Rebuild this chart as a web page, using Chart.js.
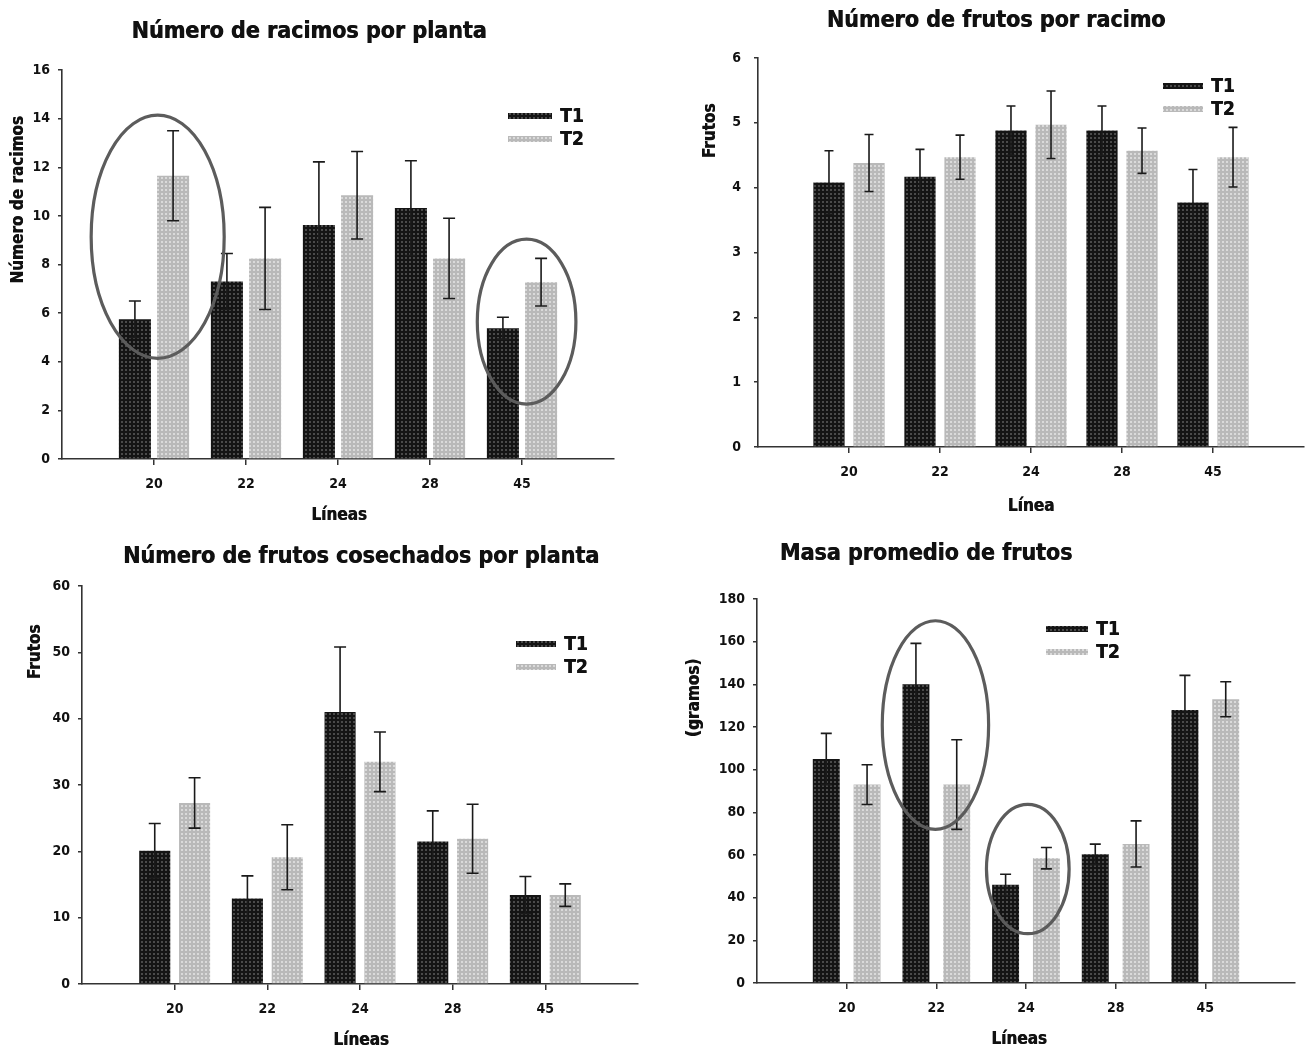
<!DOCTYPE html>
<html><head><meta charset="utf-8">
<script src="https://cdn.jsdelivr.net/npm/chart.js@4.4.1/dist/chart.umd.min.js"></script>
<style>
html,body{margin:0;padding:0;background:#fff;}
#wrap{position:relative;width:1306px;height:1051px;overflow:hidden;background:#fff;}
canvas{position:absolute;}
</style></head><body>
<div id="wrap">
<canvas id="c1" width="653" height="520" style="left:0px;top:0px"></canvas>
<canvas id="c2" width="653" height="520" style="left:653px;top:0px"></canvas>
<canvas id="c3" width="653" height="531" style="left:0px;top:520px"></canvas>
<canvas id="c4" width="653" height="531" style="left:653px;top:520px"></canvas>
</div>
<script>
// ---------- data ----------
const categories = ['20', '22', '24', '28', '45'];
const seriesNames = ['T1', 'T2'];

const racimosT1    = [5.75, 7.3, 9.62, 10.32, 5.38];
const racimosT1Err = [0.75, 1.15, 2.6, 1.95, 0.45];
const racimosT2    = [11.65, 8.25, 10.85, 8.25, 7.27];
const racimosT2Err = [1.85, 2.1, 1.8, 1.65, 0.98];
const racimosTicks = [0, 16, 2];           // min, max, step

const frutosRacT1    = [4.08, 4.17, 4.88, 4.88, 3.77];
const frutosRacT1Err = [0.49, 0.42, 0.38, 0.38, 0.51];
const frutosRacT2    = [4.38, 4.47, 4.97, 4.57, 4.47];
const frutosRacT2Err = [0.44, 0.34, 0.52, 0.35, 0.46];
const frutosRacTicks = [0, 6, 1];

const cosechaT1    = [20.1, 12.9, 41.0, 21.5, 13.4];
const cosechaT1Err = [4.1, 3.4, 9.8, 4.6, 2.8];
const cosechaT2    = [27.3, 19.1, 33.5, 21.9, 13.4];
const cosechaT2Err = [3.8, 4.9, 4.5, 5.2, 1.7];
const cosechaTicks = [0, 60, 10];

const masaT1    = [105, 140, 46, 60.3, 128];
const masaT1Err = [12, 19.2, 5, 4.8, 16.2];
const masaT2    = [93, 93, 58.5, 65.2, 133];
const masaT2Err = [9.3, 21, 5, 10.8, 8.2];
const masaTicks = [0, 180, 20];

// highlight ellipses (category position, value centre, half sizes)
const racimosHighlights = [
  { cx: 1.04, cy: 9.14, rx: 0.723, ry: 5.0 },
  { cx: 5.05, cy: 5.65, rx: 0.536, ry: 3.39 }
];
const masaHighlights = [
  { cx: 1.99, cy: 120.9, rx: 0.593, ry: 48.9 },
  { cx: 3.02, cy: 53.4, rx: 0.461, ry: 30.3 }
];

// ---------- styling ----------
const FONT = '"DejaVu Sans Condensed", "Liberation Sans Narrow", "Liberation Sans", sans-serif';
const INK = '#111111';
const AXIS = '#333333';

function makePattern(bg, dot) {
  const t = document.createElement('canvas');
  t.width = 4; t.height = 4;
  const g = t.getContext('2d');
  g.fillStyle = bg; g.fillRect(0, 0, 4, 4);
  g.fillStyle = dot; g.fillRect(1, 1, 2, 2);
  return document.createElement('canvas').getContext('2d').createPattern(t, 'repeat');
}
const darkFill = makePattern('#141414', '#4a4a4a');
const lightFill = makePattern('#b9b9b9', '#dadada');

function heavyText(ctx, text, x, y) {
  ctx.fillText(text, x, y);
  ctx.fillText(text, x + 0.6, y);
}

const decorPlugin = {
  id: 'decor',
  afterDatasetsDraw(chart, args, o) {
    const ctx = chart.ctx, xs = chart.scales.x, ys = chart.scales.y;
    ctx.save();
    chart.data.datasets.forEach((ds, di) => {
      const meta = chart.getDatasetMeta(di);
      meta.data.forEach((bar, i) => {
        const v = ds.data[i].y, e = ds.errors[i];
        const top = ys.getPixelForValue(v + e), bot = ys.getPixelForValue(v - e);
        ctx.strokeStyle = '#1a1a1a';
        ctx.lineWidth = 1.6;
        ctx.beginPath();
        ctx.moveTo(bar.x, top); ctx.lineTo(bar.x, bot);
        ctx.moveTo(bar.x - o.cap, top); ctx.lineTo(bar.x + o.cap, top);
        ctx.moveTo(bar.x - o.cap, bot); ctx.lineTo(bar.x + o.cap, bot);
        ctx.stroke();
      });
    });
    (o.ellipses || []).forEach(el => {
      const cx = xs.getPixelForValue(el.cx), cy = ys.getPixelForValue(el.cy);
      const rx = Math.abs(xs.getPixelForValue(el.cx + el.rx) - cx);
      const ry = Math.abs(ys.getPixelForValue(el.cy + el.ry) - cy);
      ctx.strokeStyle = '#5c5c5c';
      ctx.lineWidth = 3.2;
      ctx.beginPath();
      ctx.ellipse(cx, cy, rx, ry, 0, 0, Math.PI * 2);
      ctx.stroke();
    });
    ctx.restore();
  },
  afterDraw(chart, args, o) {
    const ctx = chart.ctx;
    ctx.save();
    ctx.fillStyle = INK;
    ctx.textBaseline = 'middle';
    ctx.textAlign = 'center';
    ctx.font = 'bold 23px ' + FONT;
    heavyText(ctx, o.title.text, o.title.x, o.title.y);
    ctx.font = 'bold 17px ' + FONT;
    heavyText(ctx, o.xTitle.text, o.xTitle.x, o.xTitle.y);
    ctx.save();
    ctx.translate(o.yTitle.x, o.yTitle.y);
    ctx.rotate(-Math.PI / 2);
    heavyText(ctx, o.yTitle.text, 0, 0);
    ctx.restore();
    ctx.textAlign = 'left';
    ctx.font = 'bold 19px ' + FONT;
    chart.data.datasets.forEach((ds, i) => {
      const ly = o.legend.y + i * o.legend.dy;
      ctx.fillStyle = ds.backgroundColor;
      ctx.fillRect(o.legend.x, ly - 3, o.legend.w, 6);
      ctx.fillStyle = INK;
      heavyText(ctx, ds.label, o.legend.x + o.legend.w + 8, ly + 1);
    });
    ctx.restore();
  }
};

function toPoints(vals) { return vals.map((v, i) => ({ x: i + 1, y: v })); }

function makeChart(p) {
  const cv = document.getElementById(p.id);
  const W = cv.width, H = cv.height;
  new Chart(cv, {
    type: 'bar',
    data: {
      datasets: [
        { label: seriesNames[0], data: toPoints(p.t1), errors: p.e1, backgroundColor: darkFill, borderWidth: 0 },
        { label: seriesNames[1], data: toPoints(p.t2), errors: p.e2, backgroundColor: lightFill, borderWidth: 0 }
      ]
    },
    options: {
      responsive: false,
      animation: false,
      events: [],
      categoryPercentage: p.catPct,
      barPercentage: p.barPct,
      layout: { padding: { left: 0, top: p.area.t, right: W - p.area.r, bottom: 0 } },
      plugins: {
        legend: { display: false },
        tooltip: { enabled: false },
        title: { display: false },
        decor: {
          cap: p.cap, ellipses: p.ellipses, title: p.title, xTitle: p.xTitle,
          yTitle: p.yTitle, legend: p.legend
        }
      },
      scales: {
        x: {
          type: 'linear', min: 0, max: categories.length + 1, offset: false,
          afterBuildTicks: s => { s.ticks = categories.map((c, i) => ({ value: i + 1 })); },
          afterFit: s => { s.height = H - p.area.b; },
          ticks: {
            autoSkip: false, maxRotation: 0, padding: 11, color: INK,
            font: { family: FONT, size: 14, weight: 'bold' },
            callback: v => categories[v - 1]
          },
          grid: { offset: false, drawOnChartArea: false, drawTicks: true, tickLength: 6, color: AXIS, lineWidth: 1.5 },
          border: { display: true, color: AXIS, width: 1.6 }
        },
        y: {
          min: p.ticks[0], max: p.ticks[1],
          afterFit: s => { s.width = p.area.l; },
          ticks: {
            stepSize: p.ticks[2], padding: p.tickPad, color: INK,
            font: { family: FONT, size: 14, weight: 'bold' }
          },
          grid: { drawOnChartArea: false, drawTicks: true, tickLength: 4, color: AXIS, lineWidth: 1.5 },
          border: { display: true, color: AXIS, width: 1.6 }
        }
      }
    },
    plugins: [decorPlugin]
  });
}

makeChart({
  id: 'c1', t1: racimosT1, e1: racimosT1Err, t2: racimosT2, e2: racimosT2Err, ticks: racimosTicks,
  area: { l: 62, t: 70, r: 614, b: 459 }, catPct: 0.83, barPct: 0.84, cap: 6, tickPad: 8,
  title: { text: 'Número de racimos por planta', x: 309, y: 32 },
  yTitle: { text: 'Número de racimos', x: 19, y: 200 },
  xTitle: { text: 'Líneas', x: 339, y: 516 },
  legend: { x: 508, y: 116, dy: 23, w: 44 },
  ellipses: racimosHighlights
});
makeChart({
  id: 'c2', t1: frutosRacT1, e1: frutosRacT1Err, t2: frutosRacT2, e2: frutosRacT2Err, ticks: frutosRacTicks,
  area: { l: 105, t: 58, r: 651, b: 447 }, catPct: 0.88, barPct: 0.78, cap: 4.5, tickPad: 13,
  title: { text: 'Número de frutos por racimo', x: 343, y: 21 },
  yTitle: { text: 'Frutos', x: 58, y: 131 },
  xTitle: { text: 'Línea', x: 378, y: 507 },
  legend: { x: 510, y: 86, dy: 23, w: 40 },
  ellipses: []
});
makeChart({
  id: 'c3', t1: cosechaT1, e1: cosechaT1Err, t2: cosechaT2, e2: cosechaT2Err, ticks: cosechaTicks,
  area: { l: 82, t: 66, r: 638, b: 464 }, catPct: 0.86, barPct: 0.78, cap: 6, tickPad: 8,
  title: { text: 'Número de frutos cosechados por planta', x: 361, y: 37 },
  yTitle: { text: 'Frutos', x: 36, y: 132 },
  xTitle: { text: 'Líneas', x: 361, y: 521 },
  legend: { x: 516, y: 124, dy: 23, w: 40 },
  ellipses: []
});
makeChart({
  id: 'c4', t1: masaT1, e1: masaT1Err, t2: masaT2, e2: masaT2Err, ticks: masaTicks,
  area: { l: 104, t: 79, r: 642, b: 463 }, catPct: 0.91, barPct: 0.66, cap: 5.5, tickPad: 8,
  title: { text: 'Masa promedio de frutos', x: 273, y: 34 },
  yTitle: { text: '(gramos)', x: 42, y: 178 },
  xTitle: { text: 'Líneas', x: 366, y: 520 },
  legend: { x: 393, y: 109, dy: 23, w: 42 },
  ellipses: masaHighlights
});
</script>
</body></html>
